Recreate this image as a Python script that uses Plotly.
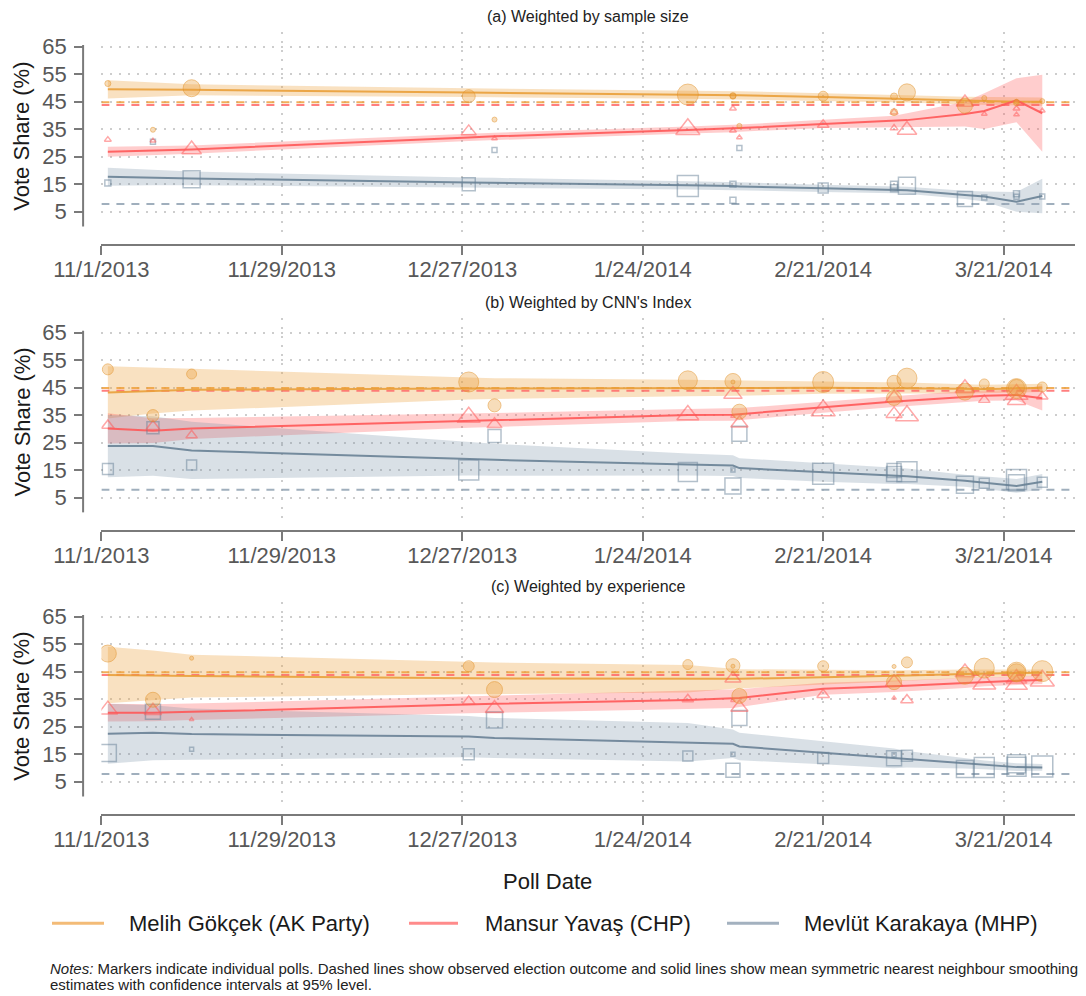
import plotly.graph_objects as go

# ---------------- data ----------------
poll_dates = ["2013-11-02", "2013-11-09", "2013-11-15", "2013-12-28", "2014-01-01",
              "2014-01-31", "2014-02-07", "2014-02-07", "2014-02-08", "2014-02-21",
              "2014-03-04", "2014-03-04", "2014-03-06", "2014-03-15", "2014-03-18",
              "2014-03-23", "2014-03-23", "2014-03-27"]
akp = [51.6, 34.8, 49.9, 47.0, 38.5, 47.6, 47.2, 47.0, 36.2, 47.0,
       46.9, 41.2, 48.4, 43.5, 46.3, 44.6, 45.0, 45.2]
chp = [31.2, 30.8, 27.6, 34.2, 31.6, 35.0, 42.5, 34.5, 32.0, 36.6,
       35.4, 41.2, 34.7, 44.7, 40.5, 42.5, 40.3, 41.7]
mhp = [15.4, 30.4, 16.8, 15.0, 27.4, 14.3, 9.2, 15.0, 28.2, 13.6,
       14.8, 13.5, 14.4, 9.6, 10.2, 11.5, 10.4, 10.5]

# marker sizes (weights) per panel
size_a = [6, 5, 17, 13, 5, 21, 6, 6, 5, 10, 7, 7, 17, 15, 5, 6, 5, 5]
size_b = [11, 12, 10, 20, 13, 19, 16, 4, 15, 21, 14, 15, 20, 17, 10, 20, 16, 10]
size_c = [17, 15, 4, 11, 16, 10, 14, 4, 15, 11, 4, 15, 11, 17, 20, 18, 19, 21]

# smoothing estimates, evaluated at poll dates
line_dates = ["2013-11-02", "2013-11-09", "2013-11-15", "2013-12-28", "2014-01-01",
              "2014-01-31", "2014-02-07", "2014-02-08", "2014-02-21", "2014-03-04",
              "2014-03-06", "2014-03-15", "2014-03-18", "2014-03-23", "2014-03-27"]

akp_line_a = [49.5, 49.4, 49.3, 48.3, 48.2, 47.6, 47.4, 47.3, 46.7, 46.2, 46.0, 45.4, 45.2, 45.0, 45.0]
akp_ci_a = [3.3, 2.5, 2.0, 1.6, 1.6, 1.5, 1.5, 1.5, 1.4, 1.4, 1.3, 1.4, 1.5, 1.4, 1.5]
chp_line_a = [26.8, 27.2, 27.6, 32.0, 32.4, 34.7, 35.2, 35.4, 36.9, 37.9, 38.3, 40.5, 41.6, 45.5, 40.8]
chp_ci_a = [1.8, 1.6, 1.5, 1.3, 1.3, 1.3, 1.3, 1.3, 1.5, 2.0, 2.5, 4.5, 6.5, 8.0, 14.0]
mhp_line_a = [17.7, 17.4, 17.1, 15.6, 15.5, 14.6, 14.3, 14.2, 13.5, 13.0, 12.8, 11.1, 10.5, 8.6, 10.7]
mhp_ci_a = [3.3, 2.8, 2.5, 1.8, 1.8, 1.5, 1.5, 1.5, 1.3, 1.3, 1.3, 1.5, 1.8, 3.6, 6.3]

akp_line_b = [43.2, 43.8, 44.2, 44.6, 44.6, 44.8, 44.8, 44.8, 44.9, 44.8, 44.8, 44.5, 44.4, 44.7, 44.9]
akp_ci_b = [9.5, 8.3, 7.6, 4.0, 3.8, 3.0, 2.8, 2.8, 2.2, 2.0, 2.0, 1.7, 1.6, 1.5, 1.5]
chp_line_b = [30.1, 29.3, 30.1, 32.9, 33.3, 35.0, 35.1, 35.3, 37.8, 39.9, 40.2, 41.7, 42.0, 42.3, 41.1]
chp_ci_b = [5.5, 4.5, 3.8, 2.5, 2.4, 2.2, 2.2, 2.2, 2.0, 2.0, 2.0, 2.0, 1.8, 2.0, 4.5]
mhp_line_b = [23.7, 23.7, 22.1, 19.0, 18.7, 17.0, 16.6, 15.7, 14.1, 12.9, 12.7, 11.1, 10.4, 9.2, 10.7]
mhp_ci_b = [11.3, 10.8, 10.4, 6.0, 5.8, 4.0, 3.8, 3.6, 3.4, 3.0, 2.8, 2.2, 2.2, 2.5, 2.8]

akp_line_c = [43.8, 43.7, 43.4, 42.6, 42.6, 42.4, 42.4, 42.4, 43.0, 43.4, 43.6, 44.2, 44.4, 44.5, 44.6]
akp_ci_c = [10.3, 9.0, 7.8, 5.8, 5.7, 5.0, 3.6, 3.5, 2.7, 2.0, 1.9, 1.6, 1.4, 1.3, 1.2]
chp_line_c = [30.1, 30.1, 30.4, 32.9, 33.3, 34.7, 35.1, 35.4, 38.8, 39.6, 39.9, 40.9, 41.3, 41.7, 42.0]
chp_ci_c = [3.2, 3.1, 3.0, 3.0, 3.0, 3.3, 3.3, 3.2, 2.2, 2.0, 2.0, 1.8, 1.6, 1.5, 1.5]
mhp_line_c = [22.4, 22.8, 22.3, 21.4, 20.9, 19.3, 18.8, 17.8, 15.5, 13.5, 13.2, 11.6, 11.1, 10.3, 10.2]
mhp_ci_c = [10.9, 10.0, 9.3, 7.5, 7.3, 7.0, 5.2, 5.0, 4.2, 3.6, 3.0, 1.8, 1.6, 1.4, 1.2]

# observed election outcome
election_akp = 44.79
election_chp = 43.82
election_mhp = 7.81

candidates = ["Melih Gökçek (AK Party)", "Mansur Yavaş (CHP)", "Mevlüt Karakaya (MHP)"]
panel_titles = ["(a) Weighted by sample size", "(b) Weighted by CNN's Index",
                "(c) Weighted by experience"]
x_tick_dates = ["2013-11-01", "2013-11-29", "2013-12-27", "2014-01-24", "2014-02-21", "2014-03-21"]
x_tick_labels = ["11/1/2013", "11/29/2013", "12/27/2013", "1/24/2014", "2/21/2014", "3/21/2014"]
y_ticks = [5, 15, 25, 35, 45, 55, 65]
x_range = ["2013-11-01", "2014-04-01"]
y_range = [-2.85, 70.45]

# ---------------- styling ----------------
W, H = 1086, 996
FONT = "Liberation Sans, Arial, Helvetica, sans-serif"
ORANGE = "rgb(234,160,58)"
RED = "rgb(255,88,88)"
GREY = "rgb(106,130,150)"
band_cols = ["rgba(236,162,62,0.32)", "rgba(255,90,90,0.30)", "rgba(110,136,158,0.26)"]
dash_cols = ["rgba(238,160,60,0.85)", "rgba(255,105,105,0.85)", "rgba(150,166,182,0.9)"]
legend_cols = ["rgba(240,170,85,0.8)", "rgba(255,110,110,0.8)", "rgba(140,158,175,0.8)"]
AXIS = "#7a7a7a"
TICKFONT = "#585858"

panels = [
    (size_a, [(akp_line_a, akp_ci_a), (chp_line_a, chp_ci_a), (mhp_line_a, mhp_ci_a)]),
    (size_b, [(akp_line_b, akp_ci_b), (chp_line_b, chp_ci_b), (mhp_line_b, mhp_ci_b)]),
    (size_c, [(akp_line_c, akp_ci_c), (chp_line_c, chp_ci_c), (mhp_line_c, mhp_ci_c)]),
]
t65_px = [46.7, 332.5, 616.7]
PPU = 2.75
x_dom = [101.4 / W, 1074.5 / W]

fig = go.Figure()
layout = dict(width=W, height=H, margin=dict(l=0, r=0, t=0, b=0, pad=0), autosize=False,
              paper_bgcolor="white", plot_bgcolor="white", showlegend=False,
              font=dict(family=FONT))
annotations = []
shapes = []

elections = [election_akp, election_chp, election_mhp]
cols = [ORANGE, RED, GREY]

for i, (sizes, smooth) in enumerate(panels):
    xa = "x" if i == 0 else f"x{i+1}"
    ya = "y" if i == 0 else f"y{i+1}"
    t65 = t65_px[i]
    top = t65 - (y_range[1] - 65) * PPU
    bot = t65 + (65 - y_range[0]) * PPU
    axis_px = t65 + 198

    # CI bands
    for k, (ln, ci) in enumerate(smooth):
        hi = [v + c for v, c in zip(ln, ci)]
        lo = [v - c for v, c in zip(ln, ci)]
        fig.add_trace(go.Scatter(x=line_dates + line_dates[::-1], y=hi + lo[::-1],
                                 fill="toself", fillcolor=band_cols[k], line=dict(width=0),
                                 mode="lines", hoverinfo="skip", xaxis=xa, yaxis=ya))
    # election outcome dashed lines
    for k in [2, 0, 1]:
        fig.add_trace(go.Scatter(x=x_range, y=[elections[k], elections[k]], mode="lines",
                                 line=dict(color=dash_cols[k], width=2, dash="8px,7px"),
                                 hoverinfo="skip", xaxis=xa, yaxis=ya))
    # smoothed lines
    for k, (ln, ci) in enumerate(smooth):
        fig.add_trace(go.Scatter(x=line_dates, y=ln, mode="lines",
                                 line=dict(color=cols[k], width=2),
                                 opacity=0.9, hoverinfo="skip", xaxis=xa, yaxis=ya))
    # poll markers
    fig.add_trace(go.Scatter(x=poll_dates, y=mhp, mode="markers", xaxis=xa, yaxis=ya,
                             marker=dict(symbol="square-open", size=sizes,
                                         color="rgba(100,126,148,0.7)",
                                         line=dict(width=1.5))))
    fig.add_trace(go.Scatter(x=poll_dates, y=chp, mode="markers", xaxis=xa, yaxis=ya,
                             marker=dict(symbol="triangle-up-open", size=sizes,
                                         color="rgba(255,90,90,0.75)",
                                         line=dict(width=1.5))))
    fig.add_trace(go.Scatter(x=poll_dates, y=akp, mode="markers", xaxis=xa, yaxis=ya,
                             marker=dict(symbol="circle", size=sizes,
                                         color="rgba(236,160,60,0.5)",
                                         line=dict(width=1, color="rgba(226,146,40,0.75)"))))

    xkey = "xaxis" if i == 0 else f"xaxis{i+1}"
    ykey = "yaxis" if i == 0 else f"yaxis{i+1}"
    layout[xkey] = dict(domain=x_dom, range=x_range, type="date", anchor="free",
                        position=1 - axis_px / H, automargin=False,
                        showline=True, linecolor=AXIS, linewidth=2,
                        ticks="outside", ticklen=9, tickwidth=2, tickcolor=AXIS,
                        ticklabelstandoff=-4,
                        tickvals=x_tick_dates, ticktext=x_tick_labels,
                        tickfont=dict(size=22, color=TICKFONT, family=FONT),
                        showgrid=True, gridcolor="#cdcdcd", gridwidth=1.5, griddash="2px,7px",
                        zeroline=False)
    layout[ykey] = dict(domain=[1 - bot / H, 1 - top / H], range=y_range, anchor="free",
                        position=83.1 / W, showline=False, automargin=False,
                        ticks="outside", ticklen=9, tickwidth=2, tickcolor=AXIS,
                        ticklabelstandoff=3,
                        tickvals=y_ticks, tickfont=dict(size=22, color=TICKFONT, family=FONT),
                        showgrid=True, gridcolor="#cdcdcd", gridwidth=1.5, griddash="2px,7px",
                        zeroline=False)
    # y axis line (spans the labelled scale only)
    shapes.append(dict(type="line", xref="paper", yref=ya, x0=83.1 / W, x1=83.1 / W,
                       y0=-0.4, y1=65.6, line=dict(color=AXIS, width=2)))
    # panel title
    annotations.append(dict(text=panel_titles[i], x=588 / W, y=1 - (t65 - 30) / H,
                            xref="paper", yref="paper", showarrow=False,
                            xanchor="center", yanchor="middle",
                            font=dict(size=16, color="#222222", family=FONT)))
    # y title
    annotations.append(dict(text="Vote Share (%)", x=22 / W, y=1 - (t65 + 90) / H,
                            xref="paper", yref="paper", showarrow=False, textangle=-90,
                            xanchor="center", yanchor="middle",
                            font=dict(size=22, color="#1a1a1a", family=FONT)))

# x title
annotations.append(dict(text="Poll Date", x=547 / W, y=1 - 881.7 / H, xref="paper", yref="paper",
                        showarrow=False, xanchor="center", yanchor="middle",
                        font=dict(size=22, color="#1a1a1a", family=FONT)))
# legend
leg_line = [(52, 104), (409, 458), (727, 779)]
leg_text_x = [127, 483, 802]
leg_y = 923.3
for k in range(3):
    shapes.append(dict(type="line", xref="paper", yref="paper",
                       x0=leg_line[k][0] / W, x1=leg_line[k][1] / W,
                       y0=1 - leg_y / H, y1=1 - leg_y / H,
                       line=dict(color=legend_cols[k], width=3)))
    annotations.append(dict(text=candidates[k], x=leg_text_x[k] / W, y=1 - leg_y / H,
                            xref="paper", yref="paper", showarrow=False,
                            xanchor="left", yanchor="middle",
                            font=dict(size=22, color="#1a1a1a", family=FONT)))
# notes
notes = ["<i>Notes:</i> Markers indicate individual polls. Dashed lines show observed election outcome "
         "and solid lines show mean symmetric nearest neighbour smoothing",
         "estimates with confidence intervals at 95% level."]
for j, txt in enumerate(notes):
    annotations.append(dict(text=txt, x=48 / W, y=1 - (968 + 16 * j) / H, xref="paper", yref="paper",
                            showarrow=False, xanchor="left", yanchor="middle",
                            font=dict(size=15, color="#222222", family=FONT)))

layout["annotations"] = annotations
layout["shapes"] = shapes
fig.update_layout(**layout)
fig.write_html("out.html")
